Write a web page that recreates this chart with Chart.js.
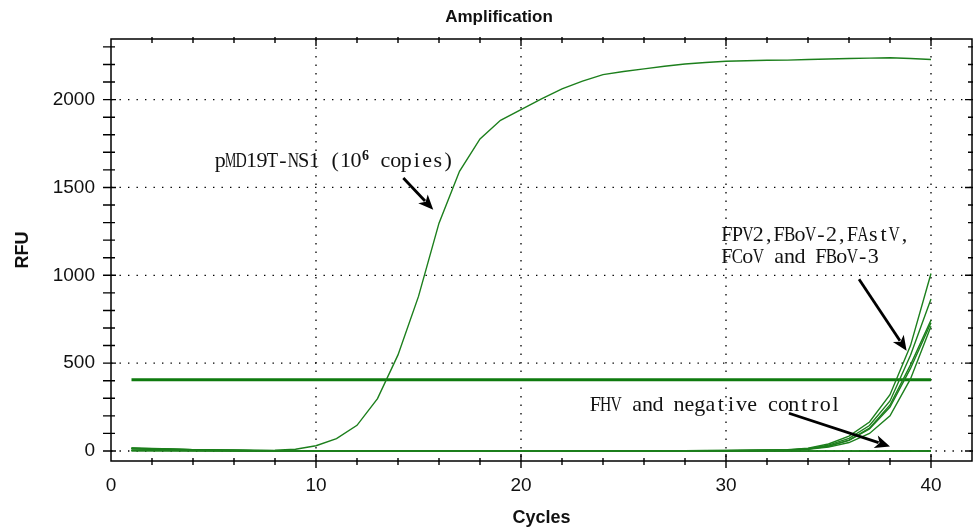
<!DOCTYPE html>
<html><head><meta charset="utf-8">
<script src="https://cdn.jsdelivr.net/npm/chart.js@4.4.1/dist/chart.umd.min.js"></script>
<style>html,body{margin:0;padding:0;background:#fff;}#wrap{width:973px;height:530px;}</style>
</head><body><div id="wrap"><canvas id="c" width="973" height="530"></canvas></div>
<script>
// ---- data ----
const cycles = [1,2,3,4,5,6,7,8,9,10,11,12,13,14,15,16,17,18,19,20,21,22,23,24,25,26,27,28,29,30,31,32,33,34,35,36,37,38,39,40];
const ns1 = [17,14,11,8,6,4,3,4,10,30, 70,146,298,547,880,1297,1592,1776,1882,1943, 2004,2061,2105,2142,2160,2175,2190,2203,2211,2218, 2221,2224,2225,2228,2231,2234,2236,2238,2234,2228];
const fpv2 = [16,13,10,8,6,4,3,2,2,1, 1,1,0,0,0,0,0,0,0,1, 1,1,1,1,1,2,2,2,3,3, 4,5,8,16,40,85,165,320,600,1010];
const fbov2 = [14,12,9,7,5,4,3,2,1,1, 0,0,0,0,0,0,0,0,0,0, 0,1,1,1,1,1,2,2,2,3, 3,4,6,13,33,72,145,285,545,865];
const fastv = [3,3,2,2,2,1,1,1,0,0, 0,0,0,-1,-1,-1,-1,0,0,0, 0,0,1,1,1,1,1,2,2,2, 3,4,5,11,27,60,125,250,470,730];
const fcov = [12,10,8,6,4,3,2,1,1,0, 0,0,0,0,0,0,0,0,0,0, 0,0,0,1,1,1,1,1,2,2, 2,3,5,10,22,48,100,200,410,710];
const fbov3 = [2,2,2,1,1,1,0,0,0,0, 0,0,0,0,-1,-1,0,0,0,0, 0,0,0,1,1,1,1,2,2,2, 3,4,5,12,28,62,130,262,490,745];
const fhv = [4,4,3,3,2,2,2,1,1,1, 1,0,0,0,0,0,0,0,1,1, 1,1,0,0,0,0,1,1,1,0, 0,0,0,-1,-1,-1,0,0,0,0];
const ntc1 = [15,12,9,7,5,3,2,1,0,0, 0,0,0,-1,-1,-1,-1,0,0,0, 0,0,0,0,1,1,0,0,0,0, 0,0,-1,-1,-1,-1,-1,0,0,0];
const ntc2 = [1,1,1,1,0,0,0,0,0,0, 0,0,0,0,0,0,1,1,1,1, 1,0,0,0,0,0,0,0,0,0, 0,0,0,0,0,0,0,0,0,0];
const threshold = 405;
const xTickValues = [0,10,20,30,40];
const yTickValues = [0,500,1000,1500,2000];

// ---- annotations (data coordinates) ----
const annTexts = [
  {x:5.07, y:1618, parts:[{t:'pMD19T-NS1 (10'},{t:'6',sup:true},{t:' copies)'}]},
  {x:29.79, y:1193, parts:[{t:'FPV2,FBoV-2,FAstV,'}]},
  {x:29.79, y:1070, parts:[{t:'FCoV and FBoV-3'}]},
  {x:23.37, y:230, parts:[{t:'FHV and negative control'}]}
];
const annArrows = [
  {from:[14.26,1554], to:[15.72,1373]},
  {from:[36.49,978], to:[38.81,570]},
  {from:[33.07,215], to:[38.0,26]}
];

const GREEN = '#1c7f1c';
const pts = arr => arr.map((v,i)=>({x:cycles[i], y:v}));
const mk = (label, arr) => ({label, data:pts(arr), borderColor:GREEN, borderWidth:1.4, pointRadius:0, tension:0, fill:false});

const datasets = [
  mk('FHV', fhv), mk('NTC 1', ntc1), mk('NTC 2', ntc2),
  mk('FPV2', fpv2), mk('FBoV-2', fbov2), mk('FAstV', fastv), mk('FCoV', fcov), mk('FBoV-3', fbov3),
  mk('pMD19T-NS1', ns1),
  {label:'Threshold', data:[{x:cycles[0],y:threshold},{x:cycles[cycles.length-1],y:threshold}], borderColor:'#0e7a0e', borderWidth:3, pointRadius:0, fill:false}
];

function dotted(ctx, x1,y1,x2,y2){
  ctx.save(); ctx.strokeStyle='#000'; ctx.lineWidth=1.3; ctx.setLineDash([1.4,7.1]);
  ctx.beginPath(); ctx.moveTo(x1,y1); ctx.lineTo(x2,y2); ctx.stroke(); ctx.restore();
}

const framePlugin = {
  id:'frame',
  beforeDatasetsDraw(chart){
    const {ctx, chartArea:a, scales:{x,y}} = chart;
    xTickValues.forEach(v=>{ if(v>x.min && v<x.max){ const px=x.getPixelForValue(v); dotted(ctx,px,a.top,px,a.bottom);} });
    yTickValues.forEach(v=>{ const py=y.getPixelForValue(v); dotted(ctx,a.left,py,a.right,py); });
  },
  afterDatasetsDraw(chart){
    const {ctx, chartArea:a, scales:{x,y}} = chart;
    ctx.save();
    ctx.strokeStyle='#000'; ctx.lineWidth=1.5; ctx.setLineDash([]);
    ctx.strokeRect(a.left,a.top,a.right-a.left,a.bottom-a.top);
    ctx.lineWidth=1.4;
    ctx.beginPath();
    for(let v=2; v<x.max; v+=2){
      const px=x.getPixelForValue(v); const maj = v%10===0;
      const o = maj?7:4, i = maj?7:3;
      ctx.moveTo(px,a.bottom-i); ctx.lineTo(px,a.bottom+o);
      ctx.moveTo(px,a.top-2); ctx.lineTo(px,a.top+(maj?7:4));
    }
    for(let v=0; v<y.max; v+=100){
      const py=y.getPixelForValue(v); const maj = v%500===0;
      ctx.moveTo(a.left-8,py); ctx.lineTo(a.left+(maj?5:4),py);
      ctx.moveTo(a.right-(maj?7:4),py); ctx.lineTo(a.right+2,py);
    }
    ctx.stroke();
    ctx.restore();

    // title
    ctx.save();
    ctx.fillStyle='#111'; ctx.font='bold 17px "Liberation Sans", Arial, sans-serif';
    ctx.textAlign='center'; ctx.textBaseline='middle';
    ctx.fillText('Amplification', 499, 17);
    ctx.restore();

    // annotation texts (SimSun-like fixed-pitch serif)
    ctx.save(); ctx.fillStyle='#111';
    annTexts.forEach(an=>{
      let cx = x.getPixelForValue(an.x); const by = y.getPixelForValue(an.y);
      an.parts.forEach(p=>{
        const size = p.sup?14:22, cell = p.sup?8.5:10.45, yy = p.sup?by-7:by;
        ctx.font = (p.sup?'bold ':'')+size+'px "Liberation Serif", serif';
        ctx.textAlign='center'; ctx.textBaseline='alphabetic';
        for(const ch of p.t){
          const w = ctx.measureText(ch).width;
          const s = w>0 ? Math.min(1,(cell*1.08)/w) : 1;
          ctx.save(); ctx.translate(cx+cell/2, yy); ctx.scale(s,1); ctx.fillText(ch,0,0); ctx.restore();
          cx += cell;
        }
      });
    });
    ctx.restore();

    // arrows
    ctx.save(); ctx.fillStyle='#000'; ctx.strokeStyle='#000';
    annArrows.forEach(ar=>{
      const x1=x.getPixelForValue(ar.from[0]), y1=y.getPixelForValue(ar.from[1]);
      const x2=x.getPixelForValue(ar.to[0]), y2=y.getPixelForValue(ar.to[1]);
      const ang=Math.atan2(y2-y1,x2-x1), L=15, W=6.5;
      const bx=x2-Math.cos(ang)*(L-3), by=y2-Math.sin(ang)*(L-3);
      ctx.lineWidth=2.8; ctx.beginPath(); ctx.moveTo(x1,y1); ctx.lineTo(bx,by); ctx.stroke();
      ctx.beginPath();
      ctx.moveTo(x2,y2);
      ctx.lineTo(x2-Math.cos(ang)*L+Math.sin(ang)*W, y2-Math.sin(ang)*L-Math.cos(ang)*W);
      ctx.lineTo(x2-Math.cos(ang)*(L-4), y2-Math.sin(ang)*(L-4));
      ctx.lineTo(x2-Math.cos(ang)*L-Math.sin(ang)*W, y2-Math.sin(ang)*L+Math.cos(ang)*W);
      ctx.closePath(); ctx.fill();
    });
    ctx.restore();
  }
};

new Chart(document.getElementById('c'), {
  type:'line',
  data:{datasets},
  plugins:[framePlugin],
  options:{
    responsive:false, animation:false, devicePixelRatio:1,
    layout:{padding:{top:39,right:1,left:0,bottom:0}},
    plugins:{legend:{display:false}, title:{display:false}, tooltip:{enabled:false}},
    scales:{
      x:{type:'linear', min:0, max:42,
        afterBuildTicks:s=>{s.ticks=xTickValues.map(v=>({value:v}));},
        afterFit:s=>{s.height=69;},
        grid:{display:false, drawTicks:false}, border:{display:false},
        ticks:{font:{family:'"Liberation Sans", Arial, sans-serif', size:19}, color:'#111', padding:13, maxRotation:0, autoSkip:false, callback:v=>String(v)},
        title:{display:true, text:'Cycles', color:'#111', font:{family:'"Liberation Sans", Arial, sans-serif', size:18, weight:'bold'}, padding:{top:0,bottom:1}}
      },
      y:{type:'linear', min:-57, max:2345,
        afterBuildTicks:s=>{s.ticks=yTickValues.map(v=>({value:v}));},
        afterFit:s=>{s.width=111;},
        grid:{display:false, drawTicks:false}, border:{display:false},
        ticks:{font:{family:'"Liberation Sans", Arial, sans-serif', size:19}, color:'#111', padding:16, callback:v=>String(v)},
        title:{display:true, text:'RFU', color:'#111', font:{family:'"Liberation Sans", Arial, sans-serif', size:18, weight:'bold'}, padding:{top:12,bottom:0}}
      }
    }
  }
});
</script></body></html>
